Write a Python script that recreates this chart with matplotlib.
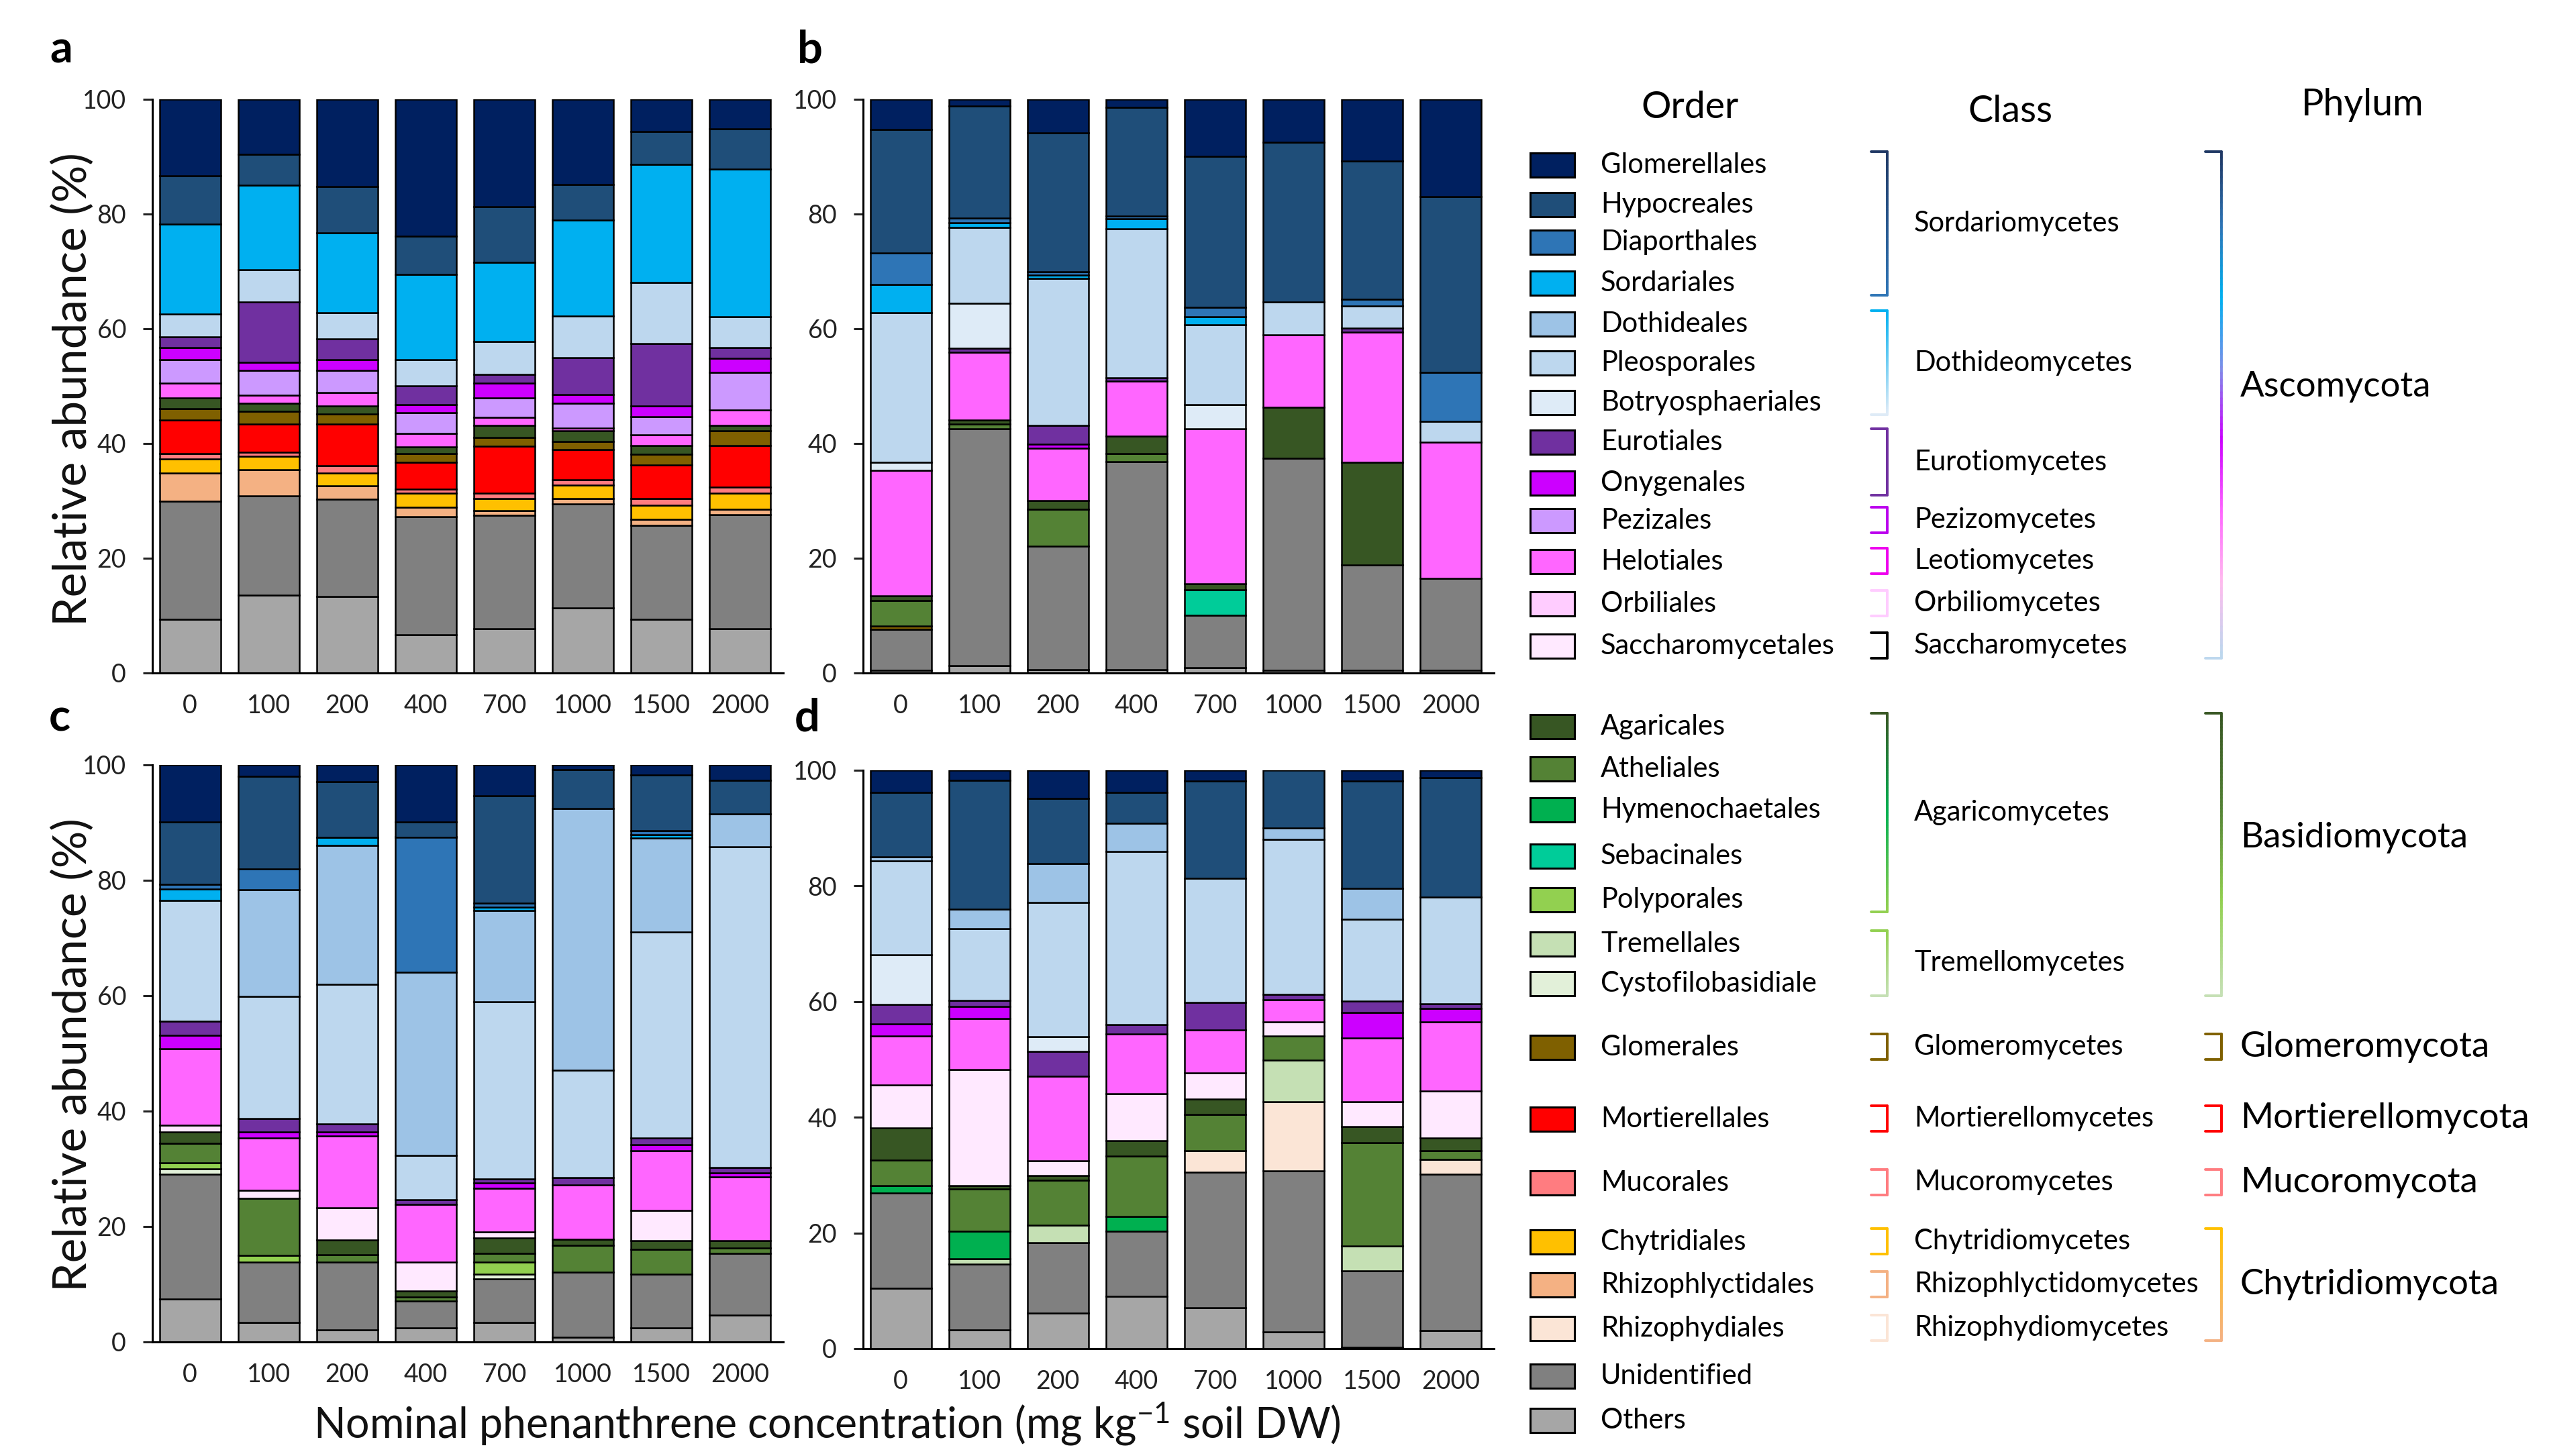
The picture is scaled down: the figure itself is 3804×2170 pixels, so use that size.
import numpy as np
import matplotlib
matplotlib.use('Agg')
import matplotlib.pyplot as plt
from matplotlib.collections import LineCollection
from matplotlib.colors import LinearSegmentedColormap
from matplotlib.patches import Rectangle

plt.rcParams['font.family'] = ['Lato', 'DejaVu Sans']
plt.rcParams['mathtext.fontset'] = 'custom'
plt.rcParams['mathtext.rm'] = 'Lato'
plt.rcParams['mathtext.it'] = 'Lato:italic'

# ============================================================================
# DATA
# ============================================================================
W, H = 3805, 2170

concentrations = ['0', '100', '200', '400', '700', '1000', '1500', '2000']

# legend order (top to bottom); bars are stacked in the reverse order
orders = ['Glomerellales', 'Hypocreales', 'Diaporthales', 'Sordariales',
          'Dothideales', 'Pleosporales', 'Botryosphaeriales', 'Eurotiales',
          'Onygenales', 'Pezizales', 'Helotiales', 'Orbiliales',
          'Saccharomycetales', 'Agaricales', 'Atheliales', 'Hymenochaetales',
          'Sebacinales', 'Polyporales', 'Tremellales', 'Cystofilobasidiale',
          'Glomerales', 'Mortierellales', 'Mucorales', 'Chytridiales',
          'Rhizophlyctidales', 'Rhizophydiales', 'Unidentified', 'Others']

order_colors = ['#002060', '#1F4E79', '#2E75B6', '#00B0F0',
                '#9DC3E6', '#BDD7EE', '#DEEBF7', '#7030A0',
                '#CC00FF', '#CC99FF', '#FF66FF', '#FFCCFF',
                '#FFE9FF', '#375623', '#548235', '#00B050',
                '#00CC99', '#92D050', '#C5E0B4', '#E2F0D9',
                '#7F6000', '#FF0000', '#FF7C80', '#FFC000',
                '#F4B183', '#FBE5D6', '#808080', '#A6A6A6']

# relative abundance (%) per order, one value per concentration
panel_a = {
    'Others':            [9.4, 13.6, 13.3, 6.7, 7.7, 11.4, 9.4, 7.7],
    'Unidentified':      [20.5, 17.3, 17.0, 20.6, 19.8, 18.1, 16.3, 19.9],
    'Rhizophlyctidales': [4.9, 4.5, 2.3, 1.6, 0.8, 0.9, 1.1, 0.9],
    'Chytridiales':      [2.5, 2.4, 2.2, 2.5, 2.1, 2.4, 2.4, 2.9],
    'Mucorales':         [1.0, 0.7, 1.3, 0.7, 1.0, 0.9, 1.2, 1.0],
    'Mortierellales':    [5.8, 4.9, 7.3, 4.6, 8.1, 5.3, 5.9, 7.3],
    'Glomerales':        [2.0, 2.2, 1.8, 1.6, 1.5, 1.4, 1.8, 2.5],
    'Agaricales':        [1.8, 1.4, 1.4, 1.1, 2.1, 1.8, 1.6, 1.0],
    'Helotiales':        [2.6, 1.4, 2.3, 2.3, 1.5, 0.5, 1.8, 2.7],
    'Pezizales':         [4.1, 4.3, 3.9, 3.7, 3.4, 4.3, 3.2, 6.5],
    'Onygenales':        [2.1, 1.4, 1.8, 1.4, 2.5, 1.5, 1.8, 2.4],
    'Eurotiales':        [1.9, 10.6, 3.6, 3.2, 1.5, 6.5, 10.9, 1.9],
    'Pleosporales':      [4.0, 5.6, 4.6, 4.6, 5.8, 7.2, 10.7, 5.4],
    'Sordariales':       [15.6, 14.7, 13.9, 14.9, 13.8, 16.7, 20.5, 25.7],
    'Hypocreales':       [8.5, 5.4, 8.1, 6.6, 9.7, 6.3, 5.8, 7.1],
    'Glomerellales':     [13.3, 9.6, 15.2, 23.9, 18.7, 14.8, 5.6, 5.1],
}

panel_b = {
    'Others':            [0.5, 1.3, 0.6, 0.6, 0.9, 0.5, 0.5, 0.5],
    'Unidentified':      [7.1, 41.3, 21.5, 36.2, 9.2, 36.9, 18.3, 16.0],
    'Glomerales':        [0.6, 0, 0, 0, 0, 0, 0, 0],
    'Sebacinales':       [0, 0, 0, 0, 4.4, 0, 0, 0],
    'Atheliales':        [4.4, 0.8, 6.4, 1.5, 0, 0, 0, 0],
    'Agaricales':        [0.9, 0.7, 1.5, 3.0, 1.0, 8.9, 17.9, 0],
    'Helotiales':        [21.8, 11.8, 9.2, 9.6, 27.1, 12.7, 22.7, 23.7],
    'Onygenales':        [0, 0, 0.7, 0, 0, 0, 0, 0],
    'Eurotiales':        [0, 0.7, 3.3, 0.6, 0, 0, 0.7, 0],
    'Botryosphaeriales': [1.4, 7.8, 0, 0, 4.2, 0, 0, 0],
    'Pleosporales':      [26.1, 13.3, 25.6, 25.9, 13.9, 5.7, 3.9, 3.7],
    'Sordariales':       [4.9, 0.8, 0.5, 1.8, 1.4, 0, 0, 0],
    'Diaporthales':      [5.5, 0.8, 0.6, 0.4, 1.6, 0, 1.1, 8.5],
    'Hypocreales':       [21.5, 19.5, 24.3, 19.0, 26.4, 27.8, 24.1, 30.6],
    'Glomerellales':     [5.3, 1.2, 5.8, 1.4, 9.9, 7.5, 10.8, 17.0],
}

panel_c = {
    'Others':             [7.5, 3.4, 2.1, 2.5, 3.4, 0.8, 2.5, 4.7],
    'Unidentified':       [21.6, 10.4, 11.7, 4.6, 7.5, 11.3, 9.2, 10.6],
    'Cystofilobasidiale': [0.9, 0, 0, 0, 0.8, 0, 0, 0],
    'Polyporales':        [1.0, 1.2, 0, 0, 2.1, 0, 0, 0],
    'Atheliales':         [3.4, 9.9, 1.3, 0.7, 1.5, 4.7, 4.4, 1.0],
    'Agaricales':         [2.0, 0, 2.6, 1.0, 2.7, 1.0, 1.5, 1.3],
    'Saccharomycetales':  [1.2, 1.4, 5.5, 5.0, 1.1, 0, 5.2, 0],
    'Helotiales':         [13.2, 9.0, 12.5, 10.0, 7.5, 9.4, 10.3, 11.0],
    'Onygenales':         [2.3, 1.1, 0.7, 0, 1.0, 0, 1.1, 0.7],
    'Eurotiales':         [2.5, 2.3, 1.4, 0.8, 0.6, 1.3, 1.1, 0.9],
    'Pleosporales':       [20.9, 21.2, 24.2, 7.7, 30.7, 18.6, 35.8, 55.6],
    'Dothideales':        [0, 18.5, 24.1, 31.8, 15.9, 45.3, 16.2, 5.7],
    'Sordariales':        [2.0, 0, 1.4, 0, 0.6, 0, 0.6, 0],
    'Diaporthales':       [0.8, 3.6, 0, 23.4, 0.6, 0, 0.7, 0],
    'Hypocreales':        [10.8, 16.0, 9.6, 2.6, 18.6, 6.8, 9.7, 5.8],
    'Glomerellales':      [9.9, 2.0, 2.9, 9.9, 5.4, 0.8, 1.7, 2.7],
}

panel_d = {
    'Others':            [10.4, 3.3, 6.1, 9.1, 7.1, 2.9, 0.2, 3.1],
    'Unidentified':      [16.5, 11.3, 12.2, 11.2, 23.4, 27.9, 13.3, 27.1],
    'Rhizophydiales':    [0, 0, 0, 0, 3.7, 11.9, 0, 2.5],
    'Tremellales':       [0, 0.9, 3.1, 0, 0, 7.2, 4.3, 0],
    'Hymenochaetales':   [1.3, 4.8, 0, 2.6, 0, 0, 0, 0],
    'Atheliales':        [4.4, 7.3, 7.7, 10.4, 6.3, 4.2, 17.8, 1.5],
    'Agaricales':        [5.6, 0.6, 0.8, 2.7, 2.7, 0, 2.8, 2.2],
    'Saccharomycetales': [7.4, 20.1, 2.6, 8.1, 4.5, 2.4, 4.3, 8.2],
    'Helotiales':        [8.5, 8.8, 14.6, 10.3, 7.4, 3.8, 11.0, 11.9],
    'Onygenales':        [2.0, 2.1, 0, 0, 0, 0, 4.4, 2.3],
    'Eurotiales':        [3.4, 1.0, 4.3, 1.6, 4.8, 1.0, 2.0, 0.8],
    'Botryosphaeriales': [8.6, 0, 2.5, 0, 0, 0, 0, 0],
    'Pleosporales':      [16.2, 12.4, 23.3, 30.0, 21.4, 26.8, 14.2, 18.5],
    'Dothideales':       [0.7, 3.4, 6.7, 4.8, 0, 1.9, 5.3, 0],
    'Hypocreales':       [11.2, 22.3, 11.2, 5.4, 16.8, 10.0, 18.5, 20.6],
    'Glomerellales':     [3.8, 1.7, 4.9, 3.8, 1.9, 0, 1.9, 1.3],
}

# class / phylum groupings: (label, first order, last order, bracket colours)
classes = [
    ('Sordariomycetes', 'Glomerellales', 'Sordariales', ['#1F3864', '#2E75B6']),
    ('Dothideomycetes', 'Dothideales', 'Botryosphaeriales', ['#00B0F0', '#DEEBF7']),
    ('Eurotiomycetes', 'Eurotiales', 'Onygenales', ['#7030A0']),
    ('Pezizomycetes', 'Pezizales', 'Pezizales', ['#BB00EE']),
    ('Leotiomycetes', 'Helotiales', 'Helotiales', ['#EE00EE']),
    ('Orbiliomycetes', 'Orbiliales', 'Orbiliales', ['#FFCCFF']),
    ('Saccharomycetes', 'Saccharomycetales', 'Saccharomycetales', ['#000000']),
    ('Agaricomycetes', 'Agaricales', 'Polyporales', ['#375623', '#00B050', '#92D050']),
    ('Tremellomycetes', 'Tremellales', 'Cystofilobasidiale', ['#92D050', '#C5E0B4']),
    ('Glomeromycetes', 'Glomerales', 'Glomerales', ['#7F6000']),
    ('Mortierellomycetes', 'Mortierellales', 'Mortierellales', ['#FF0000']),
    ('Mucoromycetes', 'Mucorales', 'Mucorales', ['#FF7C80']),
    ('Chytridiomycetes', 'Chytridiales', 'Chytridiales', ['#FFC000']),
    ('Rhizophlyctidomycetes', 'Rhizophlyctidales', 'Rhizophlyctidales', ['#F4B183']),
    ('Rhizophydiomycetes', 'Rhizophydiales', 'Rhizophydiales', ['#FBE5D6']),
]

phyla = [
    ('Ascomycota', 'Glomerellales', 'Saccharomycetales',
     ['#1F3864', '#2E75B6', '#00B0F0', '#7F8FE8', '#CC00FF', '#FF66FF', '#FFBBEE', '#BDD7EE']),
    ('Basidiomycota', 'Agaricales', 'Cystofilobasidiale', ['#375623', '#548235', '#92D050', '#C5E0B4']),
    ('Glomeromycota', 'Glomerales', 'Glomerales', ['#7F6000']),
    ('Mortierellomycota', 'Mortierellales', 'Mortierellales', ['#FF0000']),
    ('Mucoromycota', 'Mucorales', 'Mucorales', ['#FF7C80']),
    ('Chytridiomycota', 'Chytridiales', 'Rhizophydiales', ['#FFC000', '#F4B183']),
]

# ============================================================================
# LAYOUT (pixel positions of the legend rows)
# ============================================================================
legend_y = [246, 305, 361, 422, 483, 541, 600, 659, 720, 776, 837, 900, 963,
            1083, 1146, 1207, 1276, 1341, 1407, 1466,
            1561, 1668, 1763, 1851, 1915, 1980, 2051, 2117]
row_y = dict(zip(orders, legend_y))
colors = dict(zip(orders, order_colors))

# phylum labels that do not sit at their bracket middle
phylum_text_y = {'Ascomycota': 576, 'Basidiomycota': 1248}

fig = plt.figure(figsize=(W / 100, H / 100), dpi=100)

# overlay in pixel coordinates for legend, brackets and shared labels
lax = fig.add_axes([0, 0, 1, 1])
lax.set_xlim(0, W)
lax.set_ylim(H, 0)
lax.axis('off')


def draw_panel(ax, data):
    x = np.arange(len(concentrations))
    bottom = np.zeros(len(x))
    for name in reversed(orders):
        if name not in data:
            continue
        vals = np.array(data[name], dtype=float)
        ax.bar(x, vals, 0.78, bottom=bottom, color=colors[name],
               edgecolor='black', linewidth=np.where(vals > 0, 1.8, 0))
        bottom += vals
    ax.set_xlim(-0.48, 7.55)
    ax.set_ylim(0, 100)
    ax.set_xticks(x)
    ax.set_xticklabels(concentrations)
    ax.set_yticks(range(0, 101, 20))
    for s in ['top', 'right']:
        ax.spines[s].set_visible(False)
    for s in ['left', 'bottom']:
        ax.spines[s].set_linewidth(2.2)
    ax.tick_params(axis='y', length=10, width=2.2, pad=18, labelsize=27, colors='#222222')
    ax.tick_params(axis='x', length=0, pad=22, labelsize=27, colors='#222222')


axes_pos = {
    'a': [227 / W, 1 - 1003 / H, 940 / W, 855 / H],
    'b': [1286 / W, 1 - 1003 / H, 940 / W, 855 / H],
    'c': [227 / W, 1 - 2000 / H, 940 / W, 860 / H],
    'd': [1286 / W, 1 - 2010 / H, 940 / W, 862 / H],
}
for key, data in zip('abcd', [panel_a, panel_b, panel_c, panel_d]):
    ax = fig.add_axes(axes_pos[key])
    draw_panel(ax, data)

# panel letters
for key, (px, py) in zip('abcd', [(91, 75), (1207, 75), (89, 1070), (1203, 1070)]):
    lax.text(px, py, key, fontsize=48, fontweight='bold', ha='center', va='center')

# shared axis labels
for cy in [580, 1572]:
    lax.text(108, cy, 'Relative abundance (%)', fontsize=50, rotation=90,
             ha='center', va='center', color='#111111')
lax.text(1232, 2122, 'Nominal phenanthrene concentration (mg kg$^{-1}$ soil DW)',
         fontsize=45, ha='center', va='center', color='#111111')

# legend: headers and order squares
lax.text(2518, 161, 'Order', fontsize=40, ha='center', va='center')
lax.text(2995, 166, 'Class', fontsize=40, ha='center', va='center')
lax.text(3520, 156, 'Phylum', fontsize=40, ha='center', va='center')
for name in orders:
    y = row_y[name]
    lax.add_patch(Rectangle((2280, y - 18), 66, 36, facecolor=colors[name],
                            edgecolor='black', linewidth=2.2))
    lax.text(2385, y, name, fontsize=30, ha='left', va='center')


def bracket(x, y0, y1, cols, tick=24, lw=2.8):
    if len(cols) == 1:
        cols = cols * 2
    cmap = LinearSegmentedColormap.from_list('br', cols)
    n = 80
    ys = np.linspace(y0, y1, n + 1)
    segs = [[(x - tick, y0), (x, y0)]]
    seg_cols = [cmap(0.0)]
    for i in range(n):
        segs.append([(x, ys[i]), (x, ys[i + 1])])
        seg_cols.append(cmap(i / (n - 1)))
    segs.append([(x, y1), (x - tick, y1)])
    seg_cols.append(cmap(1.0))
    lax.add_collection(LineCollection(segs, colors=seg_cols, linewidths=lw,
                                      capstyle='round', joinstyle='round'))


for label, first, last, cols in classes:
    y0 = row_y[first] - 20
    y1 = row_y[last] + 18
    bracket(2812, y0, y1, cols)
    lax.text(2852, (y0 + y1) / 2, label, fontsize=30, ha='left', va='center')

for label, first, last, cols in phyla:
    y0 = row_y[first] - 20
    y1 = row_y[last] + 18
    bracket(3310, y0, y1, cols)
    ty = phylum_text_y.get(label, (y0 + y1) / 2)
    lax.text(3338, ty, label, fontsize=38, ha='left', va='center')

fig.savefig('out.png', dpi=100)
